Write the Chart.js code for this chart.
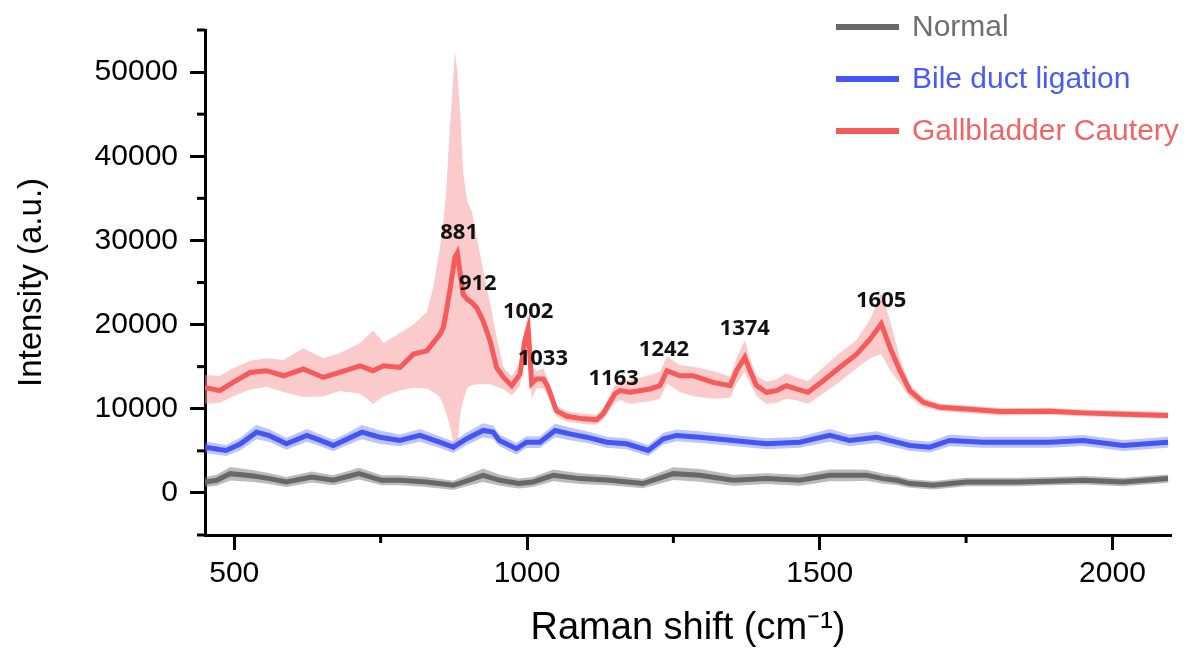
<!DOCTYPE html>
<html>
<head>
<meta charset="utf-8">
<script src="https://cdn.jsdelivr.net/npm/chart.js@4.4.1/dist/chart.umd.min.js"></script>
<style>
  html, body { margin: 0; padding: 0; background: #fff; }
</style>
</head>
<body>
<canvas id="ramanChart" width="1190" height="651"></canvas>
<script>
// Raman shift (cm-1) sample points
const redX = [
  450, 475, 498, 527, 555, 584, 618, 652, 680, 715,
  737, 755, 783, 806, 829, 840, 851, 857, 862, 868,
  877, 881, 886, 891, 898, 906, 914, 925, 937, 948,
  960, 974, 988, 996, 1002, 1008, 1016, 1028, 1036, 1050,
  1068, 1096, 1119, 1130, 1150, 1159, 1176, 1210, 1227, 1239,
  1261, 1284, 1318, 1347, 1358, 1372, 1381, 1392, 1409, 1426,
  1443, 1460, 1480, 1506, 1534, 1563, 1586, 1605, 1620, 1637,
  1654, 1677, 1705, 1751, 1808, 1893, 1950, 2007, 2095
];
// Gallbladder Cautery: mean and band edges
const redMean = [
  12540, 12150, 13130, 14310, 14520, 13920, 14720, 13720, 14310, 15100,
  14520, 15100, 14900, 16490, 16880, 17860, 18800, 19640, 21500, 23980,
  28000, 28500, 26000, 23590, 23000, 22600, 22000, 20430, 18060, 14900,
  13720, 12740, 14120, 18000, 19500, 13000, 13530, 13530, 12540, 9780,
  9100, 8800, 8700, 9390, 11760, 12150, 11950, 12350, 12740, 14520,
  13920, 13920, 13130, 12740, 14520, 16100, 14520, 12740, 11950, 12150,
  12740, 12350, 11950, 13330, 14900, 16490, 18270, 20100, 17270, 14520,
  12150, 10770, 10170, 9980, 9660, 9700, 9510, 9390, 9190
];
const redUpper = [
  14000, 13900, 14800, 15700, 16000, 15800, 17200, 16000, 16600, 17800,
  19300, 17800, 19000, 20000, 21500, 24500, 29000, 32000, 36000, 43000,
  52500, 50000, 45000, 38000, 34600, 33400, 30500, 26500, 22500, 18500,
  14900, 13900, 15500, 19500, 21200, 15000, 14500, 14800, 13500, 10400,
  9700, 9400, 9300, 10000, 12800, 13400, 13400, 14000, 14400, 16200,
  15200, 15000, 14500, 13800, 16000, 18100, 16000, 13900, 13200, 13500,
  14200, 13700, 13300, 14900, 16600, 18200, 20600, 23800, 20500, 16000,
  12900, 11300, 10600, 10400, 10100, 10100, 9900, 9800, 9600
];
const redLower = [
  10600, 10700, 11500, 12300, 12600, 12000, 11400, 11500, 12100, 11800,
  10600, 11500, 12200, 12500, 12400, 12000, 11400, 10500, 9500, 8000,
  5000, 5500, 9400, 11000, 12500, 12800, 12900, 12900, 12900, 12600,
  12300, 11600, 12700, 16000, 17500, 11200, 12400, 12400, 11500, 9100,
  8500, 8200, 8100, 8700, 10700, 11000, 10600, 10900, 11200, 13000,
  12000, 11500, 11200, 11300, 13000, 14400, 13000, 11500, 10600, 10700,
  11200, 11000, 10600, 11800, 13200, 14800, 16000, 16500, 14600, 13000,
  11300, 10200, 9700, 9500, 9200, 9300, 9100, 9000, 8800
];

// Bile duct ligation
const blueX = [
  450, 475, 486, 510, 538, 560, 589, 624, 645, 669,
  690, 718, 749, 783, 817, 851, 874, 897, 925, 942,
  953, 982, 999, 1022, 1048, 1073, 1102, 1136, 1170, 1207,
  1233, 1256, 1295, 1352, 1409, 1466, 1517, 1551, 1597, 1631,
  1654, 1688, 1722, 1779, 1836, 1893, 1950, 2018, 2095
];
const blueMean = [
  5440, 5150, 5050, 5800, 7220, 6800, 5840, 6830, 6300, 5640,
  6300, 7220, 6620, 6230, 6830, 6030, 5440, 6440, 7420, 7220,
  6230, 5250, 6030, 6030, 7420, 7020, 6620, 6030, 5840, 5050,
  6440, 6830, 6620, 6230, 5840, 6030, 6830, 6230, 6620, 6030,
  5640, 5440, 6230, 6030, 6030, 6030, 6230, 5640, 6030
];
const blueSpread = [
  700, 650, 650, 750, 850, 750, 700, 750, 700, 700,
  700, 850, 800, 700, 750, 700, 700, 750, 850, 800,
  700, 700, 700, 700, 800, 750, 700, 650, 650, 650,
  700, 700, 700, 650, 650, 650, 750, 700, 700, 650,
  650, 650, 700, 650, 650, 650, 650, 650, 650
];

// Normal
const grayX = [
  450, 470, 493, 533, 560, 589, 632, 669, 713, 752,
  783, 828, 874, 900, 925, 954, 986, 1010, 1045, 1090,
  1141, 1198, 1250, 1295, 1352, 1409, 1466, 1517, 1551, 1580,
  1608, 1631, 1654, 1694, 1751, 1836, 1893, 1950, 2018, 2095
];
const grayMean = [
  1300, 1500, 2290, 2000, 1700, 1300, 1890, 1500, 2290, 1500,
  1500, 1300, 910, 1500, 2090, 1500, 1110, 1300, 2090, 1700,
  1500, 1110, 2290, 2090, 1500, 1700, 1500, 2090, 2090, 2090,
  1700, 1500, 1110, 910, 1300, 1300, 1400, 1500, 1300, 1700
];
const graySpread = [
  600, 650, 800, 700, 650, 600, 650, 600, 700, 600,
  600, 600, 550, 650, 800, 650, 600, 600, 700, 650,
  600, 550, 750, 750, 650, 650, 650, 700, 700, 650,
  600, 550, 500, 500, 500, 500, 500, 500, 500, 500
];

const seriesNames = ['Normal', 'Bile duct ligation', 'Gallbladder Cautery'];

const xMajorTicks = [500, 1000, 1500, 2000];
const xMinorTicks = [750, 1250, 1750];
const yMajorTicks = [0, 10000, 20000, 30000, 40000, 50000];
const yMinorTicks = [-5000, 5000, 15000, 25000, 35000, 45000, 55000];

const peakNames = ['881', '912', '1002', '1033', '1163', '1242', '1374', '1605'];
const peakLabelX = [884, 916, 1002, 1027, 1148, 1234, 1372, 1605];
const peakLabelY = [30860, 24820, 21510, 15950, 13580, 17010, 19500, 22810];

const lineColors = ['#686868', '#4455f5', '#f65a5a'];
const legendTextColors = ['#6e6e6e', '#4b5bef', '#f26464'];
const bandColors = ['rgba(120,120,120,0.5)', 'rgba(90,110,245,0.4)', 'rgba(248,150,150,0.5)'];

function points(xs, ys) {
  return xs.map((x, i) => ({ x: x, y: ys[i] }));
}

const blueUpper = blueMean.map((v, i) => v + blueSpread[i]);
const blueLower = blueMean.map((v, i) => v - blueSpread[i]);
const grayUpper = grayMean.map((v, i) => v + graySpread[i]);
const grayLower = grayMean.map((v, i) => v - graySpread[i]);

function meanSet(label, xs, ys, color) {
  return { label: label, data: points(xs, ys), borderColor: color, borderWidth: 5, pointRadius: 0, fill: false, tension: 0 };
}
function edgeSet(xs, ys, fillTarget, color) {
  return { label: '', data: points(xs, ys), borderWidth: 0, borderColor: 'rgba(0,0,0,0)', pointRadius: 0,
    backgroundColor: color, fill: fillTarget === null ? false : { target: fillTarget }, tension: 0 };
}

// minor ticks drawn next to the library's major ones
const minorTicks = {
  id: 'minorTicks',
  afterDraw(chart) {
    const { ctx, scales: { x, y } } = chart;
    ctx.save();
    ctx.strokeStyle = '#000';
    ctx.lineWidth = 3;
    xMinorTicks.forEach(v => {
      const px = x.getPixelForValue(v);
      ctx.beginPath(); ctx.moveTo(px, x.top); ctx.lineTo(px, x.top + 8); ctx.stroke();
    });
    yMinorTicks.forEach(v => {
      const py = y.getPixelForValue(v);
      ctx.beginPath(); ctx.moveTo(y.right, py); ctx.lineTo(y.right - 8, py); ctx.stroke();
    });
    ctx.restore();
  }
};

const peakLabels = {
  id: 'peakLabels',
  afterDatasetsDraw(chart) {
    const { ctx, scales: { x, y } } = chart;
    ctx.save();
    ctx.font = 'bold 22px "Noto Sans", sans-serif';
    ctx.fillStyle = '#111';
    ctx.textAlign = 'center';
    ctx.textBaseline = 'middle';
    peakNames.forEach((t, i) => {
      ctx.fillText(t, x.getPixelForValue(peakLabelX[i]), y.getPixelForValue(peakLabelY[i]));
    });
    ctx.restore();
  }
};

const legendBox = {
  id: 'legendBox',
  afterDraw(chart) {
    const ctx = chart.ctx;
    ctx.save();
    ctx.font = '30px "Liberation Sans", Arial, sans-serif';
    ctx.textBaseline = 'middle';
    seriesNames.forEach((name, i) => {
      const yy = 27 + i * 52;
      ctx.strokeStyle = lineColors[i];
      ctx.lineWidth = 6;
      ctx.beginPath(); ctx.moveTo(836, yy); ctx.lineTo(899, yy); ctx.stroke();
      ctx.fillStyle = legendTextColors[i];
      ctx.fillText(name, 912, yy + 1);
    });
    ctx.restore();
  }
};

const tickFont = { family: '"Liberation Sans", Arial, sans-serif', size: 30 };

new Chart(document.getElementById('ramanChart').getContext('2d'), {
  type: 'line',
  data: {
    datasets: [
      meanSet(seriesNames[2], redX, redMean, lineColors[2]),
      meanSet(seriesNames[1], blueX, blueMean, lineColors[1]),
      meanSet(seriesNames[0], grayX, grayMean, lineColors[0]),
      edgeSet(redX, redUpper, 4, bandColors[2]),
      edgeSet(redX, redLower, null, bandColors[2]),
      edgeSet(blueX, blueUpper, 6, bandColors[1]),
      edgeSet(blueX, blueLower, null, bandColors[1]),
      edgeSet(grayX, grayUpper, 8, bandColors[0]),
      edgeSet(grayX, grayLower, null, bandColors[0])
    ]
  },
  options: {
    responsive: false,
    animation: false,
    devicePixelRatio: 1,
    layout: { padding: { top: 28, right: 19, left: 0, bottom: 0 } },
    plugins: {
      legend: { display: false },
      tooltip: { enabled: false },
      filler: { drawTime: 'beforeDatasetsDraw' }
    },
    scales: {
      x: {
        type: 'linear',
        min: 450,
        max: 2100,
        afterBuildTicks: s => { s.ticks = xMajorTicks.map(v => ({ value: v })); },
        afterFit: s => { s.height = 116; },
        ticks: { font: tickFont, color: '#000', padding: 6, maxRotation: 0, callback: v => String(v) },
        grid: { drawOnChartArea: false, drawTicks: true, tickLength: 15, tickWidth: 3, tickColor: '#000' },
        border: { display: true, color: '#000', width: 3 },
        title: { display: true, text: 'Raman shift (cm\u207B\u00B9)', color: '#000',
          font: { family: '"Liberation Sans", Arial, sans-serif', size: 38 }, padding: { top: 0, bottom: 0 } }
      },
      y: {
        type: 'linear',
        min: -5000,
        max: 55000,
        afterBuildTicks: s => { s.ticks = yMajorTicks.map(v => ({ value: v })); },
        afterFit: s => { s.width = 205; },
        ticks: { font: tickFont, color: '#000', padding: 12, callback: v => String(v) },
        grid: { drawOnChartArea: false, drawTicks: true, tickLength: 15, tickWidth: 3, tickColor: '#000' },
        border: { display: true, color: '#000', width: 3 },
        title: { display: true, text: 'Intensity (a.u.)', color: '#000',
          font: { family: '"Liberation Sans", Arial, sans-serif', size: 33 }, padding: { top: 12, bottom: 0 } }
      }
    }
  },
  plugins: [minorTicks, peakLabels, legendBox]
});
</script>
</body>
</html>
